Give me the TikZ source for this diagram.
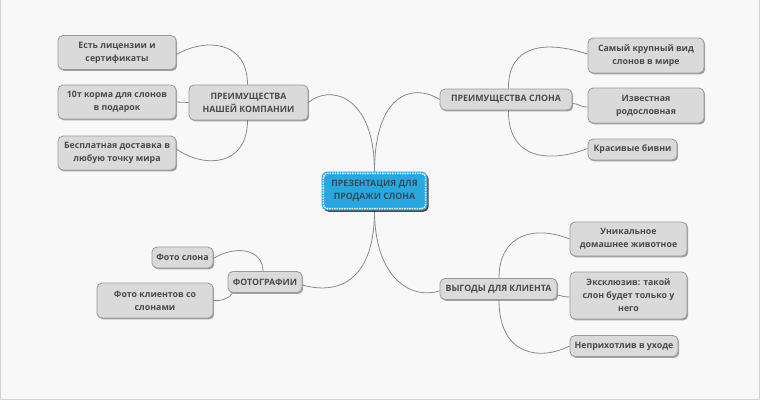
\documentclass[tikz,border=0pt]{standalone}
\usepackage{fontspec}
\setmainfont{Open Sans}
\usetikzlibrary{shadows,backgrounds}
\definecolor{bg}{HTML}{F8F8F8}
\definecolor{frame}{HTML}{D4D4D4}
\definecolor{boxfill}{HTML}{DADADA}
\definecolor{boxline}{HTML}{999999}
\definecolor{txt}{HTML}{4A4A4A}
\definecolor{conn}{HTML}{8A8A8A}
\definecolor{mainblue}{HTML}{2AA7DF}
\definecolor{maintxt}{HTML}{34495A}
\tikzset{
  topic/.style={rectangle, rounded corners=5pt, draw=boxline, line width=0.8pt, fill=boxfill,
    text=txt, font=\bfseries\fontsize{8.8}{13}\selectfont, align=center, inner sep=0pt,
    drop shadow={shadow xshift=1.2pt, shadow yshift=-1.4pt, opacity=0.35, fill=black}},
  centre/.style={rectangle, rounded corners=5pt, draw=mainblue, line width=0.8pt, fill=mainblue,
    text=maintxt, font=\bfseries\fontsize{8.8}{13}\selectfont, align=center, inner sep=0pt,
    drop shadow={shadow xshift=1.6pt, shadow yshift=-1.8pt, opacity=0.7, fill=black}},
  link/.style={draw=conn, line width=0.8pt}
}
\begin{document}
\begin{tikzpicture}[x=1pt,y=-1pt]
\useasboundingbox (0,0) rectangle (760,400);

% centre
\node[centre, minimum width=105pt, minimum height=38pt] (c) at (374.5,191) {ПРЕЗЕНТАЦИЯ ДЛЯ\\ПРОДАЖИ СЛОНА};
\draw[white, densely dotted, line width=1.5pt, rounded corners=4pt]
  ([shift={(1.8,1.8)}]c.north west) rectangle ([shift={(-1.8,-1.8)}]c.south east);

% main branches
\node[topic, minimum width=119pt, minimum height=35pt] (lm) at (248.5,102.5) {ПРЕИМУЩЕСТВА\\НАШЕЙ КОМПАНИИ};
\node[topic, minimum width=132pt, minimum height=21pt] (rm) at (506,99.5) {ПРЕИМУЩЕСТВА СЛОНА};
\node[topic, minimum width=74pt, minimum height=21pt] (fm) at (265,282) {ФОТОГРАФИИ};
\node[topic, minimum width=117pt, minimum height=21pt] (vm) at (498.5,289) {ВЫГОДЫ ДЛЯ КЛИЕНТА};

% left children
\node[topic, minimum width=118pt, minimum height=34pt] (l1) at (117,52.5) {Есть лицензии и\\сертификаты};
\node[topic, minimum width=118pt, minimum height=34pt] (l2) at (117,102) {10т корма для слонов\\в подарок};
\node[topic, minimum width=118pt, minimum height=34pt] (l3) at (117,153) {Бесплатная доставка в\\любую точку мира};

% right children
\node[topic, minimum width=116pt, minimum height=35pt] (r1) at (646,55.5) {Самый крупный вид\\слонов в мире};
\node[topic, minimum width=116pt, minimum height=35pt] (r2) at (646,105.5) {Известная\\родословная};
\node[topic, minimum width=89pt, minimum height=21pt] (r3) at (632.5,149.5) {Красивые бивни};

% photo children
\node[topic, minimum width=61pt, minimum height=21pt] (f1) at (182.5,257.5) {Фото слона};
\node[topic, minimum width=116pt, minimum height=35pt] (f2) at (155,300.5) {Фото клиентов со\\слонами};

% benefit children
\node[topic, minimum width=117pt, minimum height=34pt] (v1) at (628.5,239) {Уникальное\\домашнее животное};
\node[topic, minimum width=117pt, minimum height=47pt] (v2) at (628.5,295.5) {Эксклюзив: такой\\слон будет только у\\него};
\node[topic, minimum width=108pt, minimum height=21pt] (v3) at (624,346) {Неприхотлив в уходе};

\begin{scope}[on background layer]
\fill[bg] (0,0) rectangle (760,400);
\draw[frame, line width=1pt] (0.5,0) -- (0.5,399.5) -- (759.5,399.5) -- (759.5,0);

% connectors from centre
\draw[link] (c.north) .. controls (374.5,95) and (330,84) .. (lm.east);
\draw[link] (c.north) .. controls (374.5,95) and (412,82) .. (rm.west);
\draw[link] (c.south) .. controls (374.5,277) and (342,296) .. ([yshift=-3pt]fm.east);
\draw[link] (c.south) .. controls (374.5,277) and (410,300) .. ([yshift=-2pt]vm.west);

% left branch
\draw[link] ([xshift=-1pt]lm.north) .. controls (247.5,40) and (205,38) .. ([yshift=-2pt]l1.east);
\draw[link] (lm.west) -- (l2.east);
\draw[link] ([xshift=-1pt]lm.south) .. controls (247.5,166) and (205,169) .. ([yshift=4pt]l3.east);

% right branch
\draw[link] ([xshift=-64pt]rm.north east) .. controls (508,45) and (545,40) .. ([yshift=1.5pt]r1.west);
\draw[link] ([yshift=-4pt]rm.east) .. controls (580,104) and (580,107) .. ([yshift=-1.5pt]r2.west);
\draw[link] ([xshift=-64pt]rm.south east) .. controls (508,160) and (550,163) .. ([yshift=1pt]r3.west);

% photo branch
\draw[link] ([xshift=-2pt]fm.north) .. controls (263,250) and (237,244) .. ([yshift=-1pt]f1.east);
\draw[link] ([xshift=5pt]fm.south west) .. controls (229,299) and (221,301) .. (f2.east);

% benefit branch
\draw[link] ([xshift=0.5pt]vm.north) .. controls (499,234) and (535,225) .. (v1.west);
\draw[link] ([yshift=-6pt]vm.east) .. controls (562,296) and (565,297) .. ([yshift=-1.5pt]v2.west);
\draw[link] ([xshift=0.5pt]vm.south) .. controls (499,356) and (540,361) .. (v3.west);
\end{scope}
\end{tikzpicture}
\end{document}
